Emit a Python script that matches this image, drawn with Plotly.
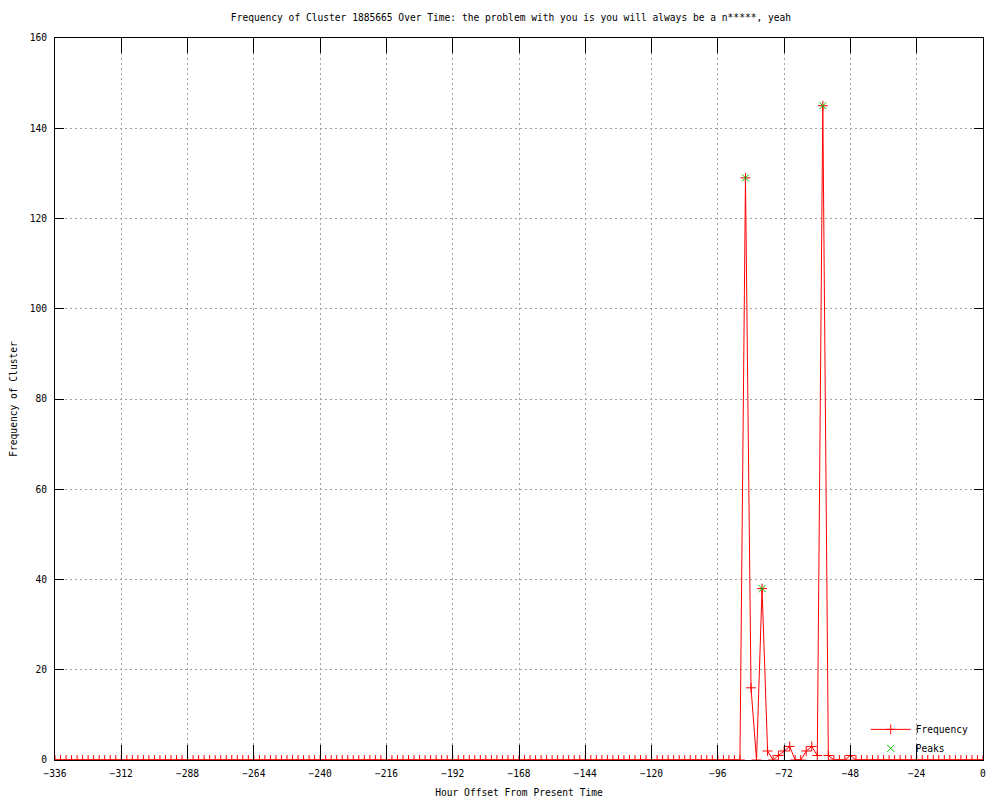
import plotly.graph_objects as go

# hours every 2h from -336 to 0
hours = list(range(-336, 2, 2))
freq = ([0] * 124
        + [0, 129, 16, 0, 38, 2, 0, 1, 2, 3, 0, 0, 2, 3, 1, 145, 1, 0, 0, 0, 1, 0]
        + [0] * 23)

peak_hours = [-86, -80, -58]
peak_vals = [129, 38, 145]

x_ticks = list(range(-336, 1, 24))
y_ticks = list(range(0, 161, 20))

title = ('Frequency of Cluster 1885665 Over Time: the problem with you '
         'is you will always be a n*****, yeah')

font = dict(family='DejaVu Sans Mono', size=9.6, color='black')


def main():
  fig = go.Figure()
  fig.add_trace(go.Scatter(
    x=hours, y=freq, name='Frequency', mode='lines+markers',
    line=dict(color='#ff0000', width=1),
    marker=dict(symbol='cross-thin', size=7, line=dict(color='#ff0000', width=1)),
    hoverinfo='skip'))
  fig.add_trace(go.Scatter(
    x=peak_hours, y=peak_vals, name='Peaks', mode='markers',
    marker=dict(symbol='x-thin', size=7, line=dict(color='#00c000', width=1)),
    hoverinfo='skip'))

  axis = dict(showline=True, linecolor='black', linewidth=1, mirror='ticks',
              ticks='inside', tickcolor='black', tickwidth=1,
              showgrid=True, gridcolor='#a0a0a0', griddash='2px,3px', gridwidth=1,
              zeroline=False, tickfont=font, automargin=False)

  # the page body adds 8px on top/left, so margins are shifted to compensate
  fig.update_layout(
    width=1000, height=800,
    paper_bgcolor='white', plot_bgcolor='white',
    font=font,
    margin=dict(l=47, r=25, t=30, b=48),
    title=dict(text=title, x=0.503, xanchor='center', y=0.9875, yanchor='middle',
               font=font),
    xaxis=dict(axis, range=[-336, 0], tickvals=x_ticks, ticklen=15,
               ticklabelstandoff=4,
               title=dict(text='Hour Offset From Present Time', font=font, standoff=11)),
    yaxis=dict(axis, range=[0, 160], tickvals=y_ticks, ticklen=9,
               ticklabelstandoff=5,
               title=dict(text='Frequency of Cluster', font=font, standoff=11)),
    legend=dict(x=0.99, y=-0.004, xanchor='right', yanchor='bottom',
                bgcolor='rgba(0,0,0,0)', font=font, tracegroupgap=0,
                itemwidth=40),
    showlegend=True,
  )
  fig.write_html('out.html')


if __name__ == '__main__':
  main()
